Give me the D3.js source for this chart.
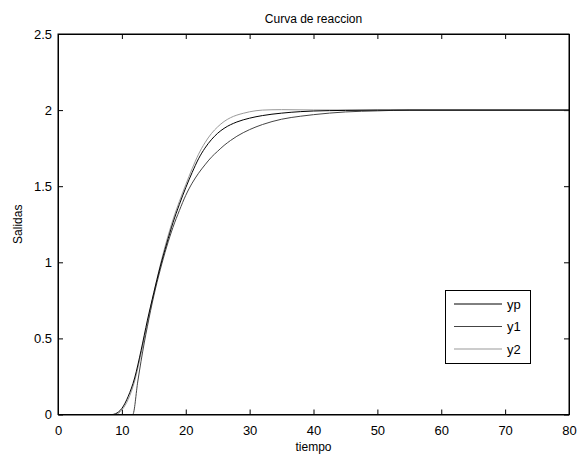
<!DOCTYPE html>
<html>
<head>
<meta charset="utf-8">
<script src="https://cdn.jsdelivr.net/npm/d3@7"></script>
<style>
  body { margin: 0; background: #fff; }
  svg { display: block; font-family: "Liberation Sans", Arial, sans-serif; }
  .axis path, .axis line { stroke: #000; }
  .axis text { font-size: 13px; fill: #000; }
</style>
</head>
<body>
<div id="chart"></div>
<script>
// ---- data ----
var xTicks = [0, 10, 20, 30, 40, 50, 60, 70, 80];
var yTicks = [0, 0.5, 1, 1.5, 2, 2.5];
var seriesNames = ["yp", "y1", "y2"];

var tYp = [0, 8.5, 9, 10, 11, 12, 13, 14, 15, 16, 17, 18, 19, 20, 21, 22, 23, 24, 25, 26, 28, 30, 32, 35, 38, 40, 45, 50, 52, 80];
var yp  = [0, 0, 0.005, 0.04, 0.12, 0.24, 0.42, 0.62, 0.8, 0.97, 1.12, 1.26, 1.38, 1.49, 1.59, 1.68, 1.75, 1.805, 1.848, 1.88, 1.922, 1.947, 1.964, 1.98, 1.99, 1.994, 1.998, 2, 2, 2];

var tY1 = [0, 11.7, 12.5, 13, 13.5, 14, 15, 16, 17, 18, 19, 20, 21, 22, 23, 24, 25, 26, 27, 28, 30, 32, 35, 38, 40, 45, 50, 55, 80];
var y1  = [0, 0, 0.22, 0.35, 0.47, 0.58, 0.78, 0.95, 1.1, 1.23, 1.34, 1.44, 1.52, 1.585, 1.64, 1.69, 1.73, 1.768, 1.8, 1.828, 1.872, 1.905, 1.94, 1.96, 1.97, 1.988, 1.995, 2, 2];

var tY2 = [0, 9, 10, 11, 12, 13, 14, 15, 16, 17, 18, 19, 20, 21, 22, 23, 24, 25, 26, 27, 28, 29, 30, 31, 32, 35, 40, 80];
var y2  = [0, 0, 0.03, 0.1, 0.22, 0.4, 0.6, 0.8, 0.98, 1.14, 1.28, 1.4, 1.51, 1.615, 1.71, 1.785, 1.845, 1.89, 1.925, 1.95, 1.967, 1.979, 1.989, 1.996, 2.0, 2.003, 2.001, 2];

var svg_width = 577, svg_height = 457;
var svg = d3.select("#chart").append("svg")
    .attr("width", svg_width)
    .attr("height", svg_height);

var margin = {top: 34, right: 8, bottom: 42, left: 58},
    width = 569 - margin.left,
    height = 414.5 - margin.top;

var g = svg.append("g").attr("transform", "translate(" + margin.left + "," + margin.top + ")");

var x = d3.scaleLinear().domain([0, 80]).range([0, width]);
var y = d3.scaleLinear().domain([0, 2.5]).range([height, 0]);

var colors = d3.scaleOrdinal().domain(seriesNames).range(["#000", "#444", "#999"]);

// axes, ticks pointing inward like matlab
g.append("g")
    .attr("class", "axis")
    .attr("transform", "translate(0," + height + ")")
    .call(d3.axisBottom(x).tickValues(xTicks).tickSizeInner(-5).tickSizeOuter(0).tickPadding(11));
g.append("g")
    .attr("class", "axis")
    .call(d3.axisLeft(y).tickValues(yTicks).tickFormat(d3.format("")).tickSizeInner(-5).tickSizeOuter(0).tickPadding(6));
g.append("g")
    .attr("class", "axis")
    .call(d3.axisTop(x).tickValues(xTicks).tickFormat("").tickSizeInner(-5).tickSizeOuter(0));
g.append("g")
    .attr("class", "axis")
    .attr("transform", "translate(" + width + ",0)")
    .call(d3.axisRight(y).tickValues(yTicks).tickFormat("").tickSizeInner(-5).tickSizeOuter(0));

var line = d3.line()
    .x(function(d) { return x(d[0]); })
    .y(function(d) { return y(d[1]); })
    .curve(d3.curveMonotoneX);

var series = [
    {name: "yp", t: tYp, v: yp},
    {name: "y1", t: tY1, v: y1},
    {name: "y2", t: tY2, v: y2}
];

// draw lighter ones first so black stays on top
series.slice().reverse().forEach(function(s) {
    g.append("path")
        .datum(s.t.map(function(t, i) { return [t, s.v[i]]; }))
        .attr("fill", "none")
        .attr("stroke", colors(s.name))
        .attr("stroke-width", 1)
        .attr("d", line);
});

// box
g.append("rect")
    .attr("width", width).attr("height", height)
    .attr("fill", "none").attr("stroke", "#000");

// labels
svg.append("text")
    .attr("x", margin.left + width / 2).attr("y", 23)
    .attr("text-anchor", "middle").attr("font-size", 12)
    .text("Curva de reaccion");
svg.append("text")
    .attr("x", margin.left + width / 2).attr("y", 451)
    .attr("text-anchor", "middle").attr("font-size", 12)
    .text("tiempo");
svg.append("text")
    .attr("transform", "translate(22," + (margin.top + height / 2) + ") rotate(-90)")
    .attr("text-anchor", "middle").attr("font-size", 12)
    .text("Salidas");

// legend
var legend = svg.append("g").attr("class", "legend");
legend.append("rect")
    .attr("x", 445.5).attr("y", 290.5)
    .attr("width", 85).attr("height", 73)
    .attr("fill", "#fff").attr("stroke", "#000");

var item = legend.selectAll(".item")
    .data(seriesNames)
    .enter().append("g")
    .attr("class", "item")
    .attr("transform", function(d, i) { return "translate(0," + (304 + i * 22.5) + ")"; });
item.append("line")
    .attr("x1", 454).attr("x2", 502)
    .attr("stroke", colors).attr("stroke-width", 1);
item.append("text")
    .attr("x", 507).attr("dy", "0.35em")
    .attr("font-size", 13)
    .text(function(d) { return d; });
</script>
</body>
</html>
